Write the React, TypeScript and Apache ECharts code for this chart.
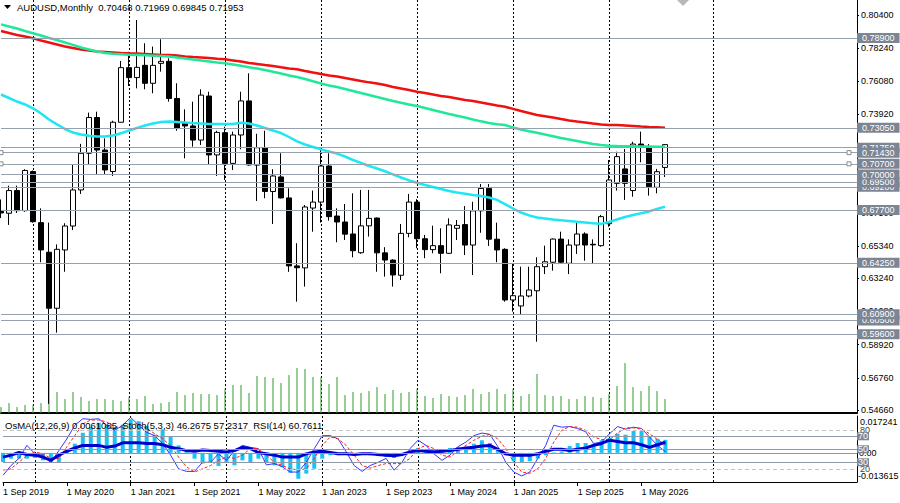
import React, { useEffect, useRef } from "react";
import * as echarts from "echarts";

const FONT = '"Liberation Sans", Arial, sans-serif';

// ---- categories (monthly bars, Sep 2019 onward, plus empty future slots) ----
const MONTH_NAMES = ["Jan", "Feb", "Mar", "Apr", "May", "Jun", "Jul", "Aug", "Sep", "Oct", "Nov", "Dec"];
const START_YEAR = 2019;
const START_MONTH = 8; // Sep
const SLOT_COUNT = 108;
const categories: string[] = Array.from({ length: SLOT_COUNT }, (_, i) => {
  const m = START_MONTH + i;
  return `1 ${MONTH_NAMES[m % 12]} ${START_YEAR + Math.floor(m / 12)}`;
});

// ---- AUDUSD monthly OHLC ----
const opens = [
  0.6760, 0.6748, 0.6896, 0.6765, 0.7020, 0.6687, 0.6494, 0.6129, 0.6509, 0.6665,
  0.6900, 0.7139, 0.7372, 0.7160, 0.7020, 0.7341, 0.7697, 0.7632, 0.7712, 0.7595,
  0.7725, 0.7738, 0.7496, 0.7338, 0.7317, 0.7225, 0.7512, 0.7128, 0.7273, 0.7073,
  0.7258, 0.7480, 0.7062, 0.7175, 0.6890, 0.6985, 0.6848, 0.6405, 0.6392, 0.6782,
  0.6821, 0.7056, 0.6730, 0.6691, 0.6613, 0.6491, 0.6666, 0.6717, 0.6490, 0.6443,
  0.6344, 0.6617, 0.6821, 0.6582, 0.6511, 0.6537, 0.6487, 0.6650, 0.6674, 0.6541,
  0.6764, 0.6910, 0.6579, 0.6513, 0.6183, 0.6144, 0.6209, 0.6243, 0.6400, 0.6429,
  0.6580, 0.6422, 0.6541, 0.6613, 0.6546, 0.6537, 0.6680, 0.6943, 0.7037, 0.6896,
  0.7199, 0.7182, 0.6917, 0.70468,
];
const highs = [
  0.6838, 0.6928, 0.6928, 0.7035, 0.7027, 0.6780, 0.6687, 0.6545, 0.6683, 0.7069,
  0.7200, 0.7404, 0.7410, 0.7236, 0.7351, 0.7740, 0.7800, 0.8007, 0.7856, 0.7834,
  0.7882, 0.7758, 0.7595, 0.7425, 0.7475, 0.7556, 0.7540, 0.7286, 0.7312, 0.7280,
  0.7540, 0.7660, 0.7266, 0.7286, 0.7035, 0.7139, 0.6911, 0.6553, 0.6802, 0.6896,
  0.7160, 0.7139, 0.6780, 0.6808, 0.6878, 0.6900, 0.6900, 0.6720, 0.6527, 0.6448,
  0.6678, 0.6874, 0.6840, 0.6607, 0.6667, 0.6650, 0.6715, 0.6704, 0.6795, 0.6823,
  0.6939, 0.6939, 0.6687, 0.6520, 0.6422, 0.6400, 0.6400, 0.6461, 0.6537, 0.6584,
  0.6628, 0.6578, 0.6687, 0.6624, 0.6578, 0.6737, 0.7095, 0.7149, 0.7167, 0.7214,
  0.7280, 0.7199, 0.7037, 0.71969,
];
const lows = [
  0.6717, 0.6672, 0.6750, 0.6758, 0.6687, 0.6429, 0.5506, 0.5970, 0.6367, 0.6639,
  0.6874, 0.7069, 0.7004, 0.7004, 0.6991, 0.7341, 0.7577, 0.7562, 0.7556, 0.7530,
  0.7671, 0.7475, 0.7286, 0.7106, 0.7182, 0.7193, 0.7063, 0.6991, 0.6965, 0.7030,
  0.7165, 0.7058, 0.6828, 0.6846, 0.6678, 0.6845, 0.6366, 0.6172, 0.6270, 0.6628,
  0.6687, 0.6700, 0.6559, 0.6574, 0.6461, 0.6484, 0.6596, 0.6367, 0.6335, 0.6270,
  0.6313, 0.6591, 0.6520, 0.6455, 0.6487, 0.6357, 0.6483, 0.6574, 0.6476, 0.6346,
  0.6621, 0.6535, 0.6429, 0.6172, 0.6107, 0.6085, 0.6200, 0.5911, 0.6352, 0.6374,
  0.6425, 0.6352, 0.6483, 0.6439, 0.6417, 0.6530, 0.6660, 0.6896, 0.6835, 0.6856,
  0.7080, 0.6863, 0.6878, 0.69845,
];
const closes = [
  0.6750, 0.6896, 0.6765, 0.7027, 0.6693, 0.6509, 0.6129, 0.6513, 0.6665, 0.6900,
  0.7139, 0.7372, 0.7160, 0.7030, 0.7341, 0.7697, 0.7632, 0.7699, 0.7595, 0.7712,
  0.7738, 0.7496, 0.7300, 0.7317, 0.7225, 0.7518, 0.7128, 0.7275, 0.7073, 0.7258,
  0.7480, 0.7063, 0.7175, 0.6890, 0.6991, 0.6848, 0.6405, 0.6393, 0.6789, 0.6821,
  0.7056, 0.6726, 0.6691, 0.6612, 0.6504, 0.6666, 0.6715, 0.6490, 0.6443, 0.6346,
  0.6617, 0.6821, 0.6582, 0.6511, 0.6537, 0.6487, 0.6672, 0.6669, 0.6541, 0.6764,
  0.6910, 0.6579, 0.6509, 0.6183, 0.6211, 0.6209, 0.6248, 0.6400, 0.6432, 0.6580,
  0.6429, 0.6541, 0.6613, 0.6541, 0.6542, 0.6726, 0.6965, 0.7117, 0.6943, 0.7199,
  0.7182, 0.6921, 0.7019, 0.71953,
];
// tick volume (thousands)
const volumes = [
  6, 10, 6, 8, 8, 10, 44, 21, 14, 21,
  16, 12, 14, 14, 13, 12, 16, 14, 17, 9,
  10, 11, 21, 18, 20, 19, 19, 18, 24, 28,
  28, 20, 37, 36, 35, 30, 38, 45, 44, 36,
  36, 29, 36, 18, 21, 20, 22, 26, 19, 23,
  20, 21, 24, 17, 15, 19, 17, 16, 18, 24,
  19, 21, 24, 19, 24, 17, 19, 39, 18, 17,
  17, 14, 14, 17, 16, 15, 19, 27, 50, 26,
  22, 27, 22, 14,
];

// ---- moving averages ----
const maRed = [
  0.7936, 0.7923, 0.7910, 0.7900, 0.7888, 0.7874, 0.7861, 0.7848, 0.7835, 0.7825,
  0.7815, 0.7809, 0.7802, 0.7799, 0.7796, 0.7792, 0.7790, 0.7789, 0.7786, 0.7783,
  0.7779, 0.7779, 0.7776, 0.7770, 0.7766, 0.7763, 0.7760, 0.7755, 0.7751, 0.7744,
  0.7737, 0.7727, 0.7721, 0.7714, 0.7708, 0.7699, 0.7691, 0.7686, 0.7675, 0.7665,
  0.7656, 0.7646, 0.7639, 0.7630, 0.7620, 0.7610, 0.7601, 0.7594, 0.7584, 0.7571,
  0.7561, 0.7551, 0.7540, 0.7532, 0.7522, 0.7512, 0.7506, 0.7496, 0.7486, 0.7480,
  0.7470, 0.7460, 0.7450, 0.7442, 0.7428, 0.7414, 0.7401, 0.7388, 0.7380, 0.7372,
  0.7362, 0.7353, 0.7346, 0.7340, 0.7333, 0.7327, 0.7323, 0.7323, 0.7320, 0.7317,
  0.7313, 0.7310, 0.7308, 0.7306,
];
const maGreen = [
  0.7979, 0.7965, 0.7952, 0.7936, 0.7921, 0.7906, 0.7890, 0.7877, 0.7861, 0.7845,
  0.7828, 0.7815, 0.7802, 0.7792, 0.7787, 0.7784, 0.7781, 0.7779, 0.7777, 0.7775,
  0.7773, 0.7770, 0.7763, 0.7757, 0.7750, 0.7744, 0.7737, 0.7730, 0.7725, 0.7717,
  0.7709, 0.7699, 0.7691, 0.7682, 0.7670, 0.7659, 0.7646, 0.7636, 0.7623, 0.7608,
  0.7594, 0.7581, 0.7571, 0.7558, 0.7545, 0.7532, 0.7519, 0.7506, 0.7493, 0.7480,
  0.7468, 0.7457, 0.7447, 0.7434, 0.7421, 0.7408, 0.7395, 0.7383, 0.7372, 0.7359,
  0.7347, 0.7336, 0.7328, 0.7323, 0.7307, 0.7294, 0.7282, 0.7273, 0.7261, 0.7250,
  0.7238, 0.7229, 0.7219, 0.7209, 0.7199, 0.7193, 0.7188, 0.7186, 0.7185, 0.7184,
  0.7183, 0.7183, 0.7182, 0.7182,
];
const maCyan = [
  0.7522, 0.7499, 0.7476, 0.7457, 0.7432, 0.7398, 0.7359, 0.7327, 0.7297, 0.7274,
  0.7261, 0.7253, 0.7248, 0.7248, 0.7255, 0.7269, 0.7287, 0.7304, 0.7320, 0.7333,
  0.7343, 0.7346, 0.7343, 0.7340, 0.7336, 0.7333, 0.7330, 0.7330, 0.7330, 0.7330,
  0.7338, 0.7333, 0.7320, 0.7304, 0.7287, 0.7271, 0.7245, 0.7216, 0.7196, 0.7180,
  0.7164, 0.7151, 0.7137, 0.7118, 0.7095, 0.7076, 0.7056, 0.7040, 0.7022, 0.7001,
  0.6981, 0.6962, 0.6947, 0.6932, 0.6919, 0.6906, 0.6893, 0.6883, 0.6875, 0.6867,
  0.6861, 0.6851, 0.6835, 0.6808, 0.6779, 0.6753, 0.6734, 0.6720, 0.6714, 0.6707,
  0.6702, 0.6698, 0.6693, 0.6688, 0.6683, 0.6679, 0.6691, 0.6707, 0.6724, 0.6737,
  0.6748, 0.6760, 0.6776, 0.6791,
];

// ---- oscillators ----
const osma = [
  -0.0043, -0.0027, -0.0027, -0.0027, -0.0024, -0.0035, -0.0043, -0.0043, 0.0015, 0.0043,
  0.0094, 0.0121, 0.0141, 0.0129, 0.0121, 0.0132, 0.0157, 0.0148, 0.0126, 0.0085,
  0.0110, 0.0074, 0.0035, 0.0007, -0.0027, -0.0050, -0.0043, -0.0061, -0.0043, -0.0058,
  -0.0035, -0.0043, -0.0027, -0.0043, -0.0058, -0.0066, -0.0093, -0.0121, -0.0097, -0.0074,
  -0.0027, -0.0011, -0.0011, -0.0008, -0.0011, -0.0008, -0.0011, -0.0015, -0.0019, -0.0024,
  -0.0011, 0.0007, 0.0023, 0.0017, 0.0017, 0.0012, 0.0023, 0.0028, 0.0020, 0.0043,
  0.0059, 0.0046, 0.0020, -0.0011, -0.0039, -0.0043, -0.0039, -0.0027, -0.0011, 0.0002,
  0.0007, 0.0032, 0.0046, 0.0046, 0.0043, 0.0059, 0.0070, 0.0090, 0.0085, 0.0102,
  0.0102, 0.0074, 0.0066, 0.0061085,
];
const stochMain = [
  10, 25, 36, 56, 43, 41, 30, 48, 66, 87,
  97, 96, 97, 87, 79, 87, 99, 87, 76, 71,
  59, 41, 20, 16, 16, 30, 30, 43, 33, 48,
  56, 53, 51, 26, 28, 23, 15, 15, 30, 51,
  71, 71, 66, 46, 25, 16, 25, 30, 36, 18,
  30, 51, 64, 56, 43, 33, 41, 54, 61, 71,
  75, 73, 54, 30, 15, 9, 15, 36, 56, 87,
  84, 85, 82, 77, 59, 61, 74, 85, 81, 84,
  82, 69, 56, 46.2675,
];
const stochSignal = [
  18, 20, 30, 41, 46, 43, 36, 36, 54, 71,
  89, 95, 95, 92, 84, 84, 89, 89, 82, 74,
  66, 56, 38, 23, 15, 20, 25, 33, 38, 36,
  41, 51, 51, 41, 30, 25, 20, 18, 20, 36,
  56, 69, 66, 56, 41, 25, 21, 25, 28, 28,
  28, 36, 51, 56, 51, 41, 38, 48, 56, 64,
  70, 73, 66, 51, 30, 15, 13, 20, 36, 61,
  79, 85, 84, 79, 69, 65, 65, 75, 83, 83,
  81, 74, 65, 57.2317,
];
const rsi = [
  38, 41, 45, 42, 41, 38, 33, 41, 47, 52,
  56, 56, 56, 53, 55, 60, 60, 60, 59, 59,
  57, 53, 51, 48, 47, 49, 48, 47, 46, 48,
  53, 51, 45, 43, 41, 38, 38, 38, 43, 46,
  47, 45, 43, 43, 42, 43, 43, 42, 41, 40,
  42, 46, 48, 47, 46, 47, 48, 50, 52, 53,
  55, 56, 50, 43, 41, 41, 41, 43, 47, 50,
  50, 48, 50, 52, 56, 59, 64, 62, 60, 60,
  57, 53, 57, 60.7611,
];

// ---- axis ticks, levels ----
const priceTicks = [0.804, 0.7824, 0.7608, 0.7392, 0.7176, 0.696, 0.675, 0.6534, 0.6324, 0.6108, 0.5892, 0.5676, 0.5466];
const priceLevels = [0.7175, 0.7143, 0.707, 0.692, 0.695, 0.7, 0.677, 0.6425, 0.605, 0.609, 0.596, 0.7305, 0.789];
const dashedOscLevels = [80, 20];
const solidOscLevels = [70, 50, 30];
const osmaAxisLabels = ["0.017241", "0.00", "-0.013615"];
const yearGridIndex = [4, 16, 28, 40, 52, 64, 76, 89];
const LABEL_STEP = 8;
const LAST_LABEL_INDEX = 80;

const PRICE_MIN = 0.54465;
const PRICE_MAX = 0.81377;
const OSMA_MIN = -0.013615;
const OSMA_MAX = 0.017241;

function buildOption() {
  const last = closes.length - 1;
  const labelInterval = (i: number) => i % LABEL_STEP === 0 && i <= LAST_LABEL_INDEX;
  const gridLineInterval = (i: number) => yearGridIndex.includes(i);
  const dashedSplit = {
    show: true,
    interval: gridLineInterval,
    lineStyle: { color: "#000", type: [2, 2], width: 1 },
  };
  const boxLabel = {
    show: true,
    position: "end",
    distance: 0,
    backgroundColor: "#7b8594",
    color: "#ffffff",
    fontSize: 9,
    fontFamily: FONT,
    lineHeight: 9,
    padding: [1, 5, 0, 5],
  };

  return {
    animation: false,
    backgroundColor: "#ffffff",
    textStyle: { fontFamily: FONT },
    grid: [
      { left: 1, top: 0, width: 856, height: 413 },
      { left: 1, top: 416, width: 856, height: 66 },
    ],
    xAxis: [
      {
        type: "category",
        gridIndex: 0,
        data: categories,
        boundaryGap: false,
        axisLine: { show: true, onZero: false, lineStyle: { color: "#000", width: 2 } },
        axisTick: { show: false },
        axisLabel: { show: false },
        splitLine: dashedSplit,
      },
      {
        type: "category",
        gridIndex: 1,
        data: categories,
        boundaryGap: false,
        axisLine: { show: true, onZero: false, lineStyle: { color: "#000", width: 1 } },
        axisTick: { show: true, interval: labelInterval, length: 4, lineStyle: { color: "#000" } },
        axisLabel: {
          show: true,
          interval: labelInterval,
          align: "left",
          color: "#000",
          fontSize: 9,
          fontFamily: FONT,
          margin: 5,
        },
        splitLine: dashedSplit,
      },
    ],
    yAxis: [
      {
        type: "value",
        gridIndex: 0,
        position: "right",
        min: PRICE_MIN,
        max: PRICE_MAX,
        axisLine: { show: true, lineStyle: { color: "#000", width: 1 } },
        axisTick: { show: true, customValues: priceTicks, length: 2, lineStyle: { color: "#000" } },
        axisLabel: {
          show: true,
          customValues: priceTicks,
          formatter: (v: number) => v.toFixed(5),
          color: "#000",
          fontSize: 9,
          fontFamily: FONT,
          margin: 4,
        },
        splitLine: { show: false },
      },
      {
        type: "value",
        gridIndex: 0,
        position: "right",
        min: 0,
        max: 413,
        show: false,
      },
      {
        type: "value",
        gridIndex: 1,
        position: "right",
        min: OSMA_MIN,
        max: OSMA_MAX,
        show: false,
      },
      {
        type: "value",
        gridIndex: 1,
        position: "right",
        min: -0.3,
        max: 101.2,
        axisLine: { show: true, lineStyle: { color: "#000", width: 1 } },
        axisTick: { show: false },
        axisLabel: { show: false },
        splitLine: { show: false },
      },
    ],
    series: [
      {
        name: "levels",
        type: "line",
        xAxisIndex: 0,
        yAxisIndex: 0,
        data: closes,
        symbol: "none",
        lineStyle: { opacity: 0 },
        silent: true,
        z: 1,
        markLine: {
          silent: true,
          precision: 5,
          symbol: ["none", "none"],
          lineStyle: { color: "#97a0ad", width: 1, type: "solid" },
          label: boxLabel,
          data: [
            {
              yAxis: closes[last],
              lineStyle: { opacity: 0 },
              label: { ...boxLabel, backgroundColor: "#000", formatter: closes[last].toFixed(5) },
            },
            ...priceLevels.map((v) => ({ yAxis: v, label: { ...boxLabel, formatter: v.toFixed(5) } })),
          ],
        },
        markPoint: {
          silent: true,
          symbol: "rect",
          symbolSize: 4,
          label: { show: false },
          itemStyle: { color: "#fff", borderColor: "#8a8a8a", borderWidth: 1 },
          data: [
            { coord: [0, priceLevels[1]] },
            { coord: [0, priceLevels[2]] },
            { coord: [106, priceLevels[1]] },
            { coord: [106, priceLevels[2]] },
          ],
        },
      },
      {
        name: "Volume",
        type: "bar",
        xAxisIndex: 0,
        yAxisIndex: 1,
        data: volumes,
        barWidth: 1,
        itemStyle: { color: "#2f9a2f" },
        silent: true,
        z: 2,
      },
      {
        name: "AUDUSD",
        type: "candlestick",
        xAxisIndex: 0,
        yAxisIndex: 0,
        data: opens.map((o, i) => [o, closes[i], lows[i], highs[i]]),
        barWidth: 5,
        itemStyle: {
          color: "#ffffff",
          color0: "#000000",
          borderColor: "#000000",
          borderColor0: "#000000",
          borderWidth: 1,
        },
        z: 3,
      },
      {
        name: "MA red",
        type: "line",
        xAxisIndex: 0,
        yAxisIndex: 0,
        data: maRed,
        symbol: "none",
        lineStyle: { color: "#f01010", width: 2.5 },
        z: 4,
      },
      {
        name: "MA green",
        type: "line",
        xAxisIndex: 0,
        yAxisIndex: 0,
        data: maGreen,
        symbol: "none",
        lineStyle: { color: "#1fe89a", width: 2.5 },
        z: 4,
      },
      {
        name: "MA cyan",
        type: "line",
        xAxisIndex: 0,
        yAxisIndex: 0,
        data: maCyan,
        symbol: "none",
        lineStyle: { color: "#1ee6f2", width: 2.5 },
        z: 4,
      },
      {
        name: "OsMA",
        type: "bar",
        xAxisIndex: 1,
        yAxisIndex: 2,
        data: osma,
        barWidth: 4,
        itemStyle: { color: "#17c2f6" },
        z: 2,
        markLine: {
          silent: true,
          precision: 6,
          symbol: ["none", "none"],
          lineStyle: { color: "#8f98a6", width: 1, type: "solid" },
          label: { show: false },
          data: [{ yAxis: 0 }],
        },
      },
      {
        name: "Stoch main",
        type: "line",
        xAxisIndex: 1,
        yAxisIndex: 3,
        data: stochMain,
        symbol: "none",
        lineStyle: { color: "#3535ff", width: 1 },
        z: 3,
      },
      {
        name: "Stoch signal",
        type: "line",
        xAxisIndex: 1,
        yAxisIndex: 3,
        data: stochSignal,
        symbol: "none",
        lineStyle: { color: "#ff1a1a", width: 1, type: [3, 2] },
        z: 3,
      },
      {
        name: "RSI",
        type: "line",
        xAxisIndex: 1,
        yAxisIndex: 3,
        data: rsi,
        symbol: "none",
        lineStyle: { color: "#0000cd", width: 3 },
        z: 4,
        markLine: {
          silent: true,
          precision: 2,
          symbol: ["none", "none"],
          lineStyle: { color: "#8f98a6", width: 1, type: "solid" },
          label: { ...boxLabel, padding: [0, 1, 0, 1], lineHeight: 8 },
          data: [
            ...dashedOscLevels.map((v) => ({
              yAxis: v,
              lineStyle: { color: "#c4c4c4", type: [4, 3] },
              label: {
                ...boxLabel,
                backgroundColor: "transparent",
                color: "#444",
                padding: [0, 1, 0, 3],
                lineHeight: 8,
                formatter: String(v),
              },
            })),
            ...solidOscLevels.map((v) => ({
              yAxis: v,
              label: { ...boxLabel, padding: [0, 1, 0, 1], lineHeight: 8, formatter: String(v) },
            })),
          ],
        },
      },
    ],
    graphic: [
      {
        type: "text",
        z: 0,
        x: 860,
        y: 422,
        style: { text: osmaAxisLabels[0], fill: "#000", font: `9px ${FONT}`, verticalAlign: "middle" },
      },
      {
        type: "text",
        z: 0,
        x: 859,
        y: 453,
        style: { text: osmaAxisLabels[1], fill: "#000", font: `9px ${FONT}`, verticalAlign: "middle" },
      },
      {
        type: "text",
        z: 0,
        x: 858,
        y: 476,
        style: { text: osmaAxisLabels[2], fill: "#000", font: `9px ${FONT}`, verticalAlign: "middle" },
      },
      {
        type: "polygon",
        z: 10,
        shape: { points: [[4, 5], [11, 5], [7.5, 9]] },
        style: { fill: "#000" },
      },
      {
        type: "text",
        z: 10,
        x: 17,
        y: 7,
        style: {
          text: "AUDUSD,Monthly  0.70468 0.71969 0.69845 0.71953",
          fill: "#000",
          font: `9.5px ${FONT}`,
          verticalAlign: "middle",
        },
      },
      {
        type: "text",
        z: 10,
        x: 5,
        y: 425,
        style: {
          text: "OsMA(12,26,9) 0.0061085  Stoch(5,3,3) 46.2675 57.2317  RSI(14) 60.7611",
          fill: "#000",
          font: `9.5px ${FONT}`,
          verticalAlign: "middle",
        },
      },
      {
        type: "polygon",
        z: 10,
        shape: { points: [[677, 0], [689, 0], [683, 6]] },
        style: { fill: "#b8b8b8" },
      },
    ],
  };
}

export default function App() {
  const ref = useRef<HTMLDivElement>(null);
  useEffect(() => {
    if (!ref.current) return;
    const chart = echarts.init(ref.current, undefined, { renderer: "svg" });
    chart.setOption(buildOption() as any);
    return () => chart.dispose();
  }, []);
  return (
    <div
      ref={ref}
      style={{ position: "fixed", left: 0, top: 0, width: 900, height: 503, background: "#fff" }}
    />
  );
}
